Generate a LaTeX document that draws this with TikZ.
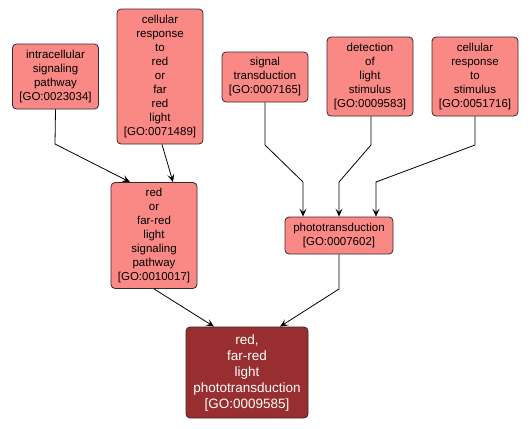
\documentclass[tikz,border=0pt]{standalone}
\usepackage{fontspec}
\setmainfont{Liberation Sans}
\usetikzlibrary{arrows.meta}
\definecolor{termfill}{RGB}{250,137,133}
\definecolor{rootfill}{RGB}{153,46,48}
\definecolor{termline}{RGB}{60,40,40}
\tikzset{
  term/.style={draw=termline, fill=termfill, rounded corners=4bp, line width=0.8bp,
    align=center, inner sep=0pt, font=\fontsize{11.5bp}{14bp}\selectfont},
  rootterm/.style={term, fill=rootfill, text=white, font=\fontsize{13.5bp}{16bp}\selectfont},
  edge/.style={line width=0.8bp, -{Stealth[length=8bp,width=7bp,inset=3.5bp]}}
}
\begin{document}
\begin{tikzpicture}[x=1bp, y=-1bp]
    \useasboundingbox (0,0) rectangle (531,428);

    % Top row
    \node[term, minimum width=86bp, minimum height=65bp] (intra) at (55.5,76.5)
        {intracellular\\signaling\\pathway\\{[GO:0023034]}};
    \node[term, minimum width=86bp, minimum height=135bp] (crred) at (160,76.5)
        {cellular\\response\\to\\red\\or\\far\\red\\light\\{[GO:0071489]}};
    \node[term, minimum width=86bp, minimum height=50bp] (sigtr) at (265,77)
        {signal\\transduction\\{[GO:0007165]}};
    \node[term, minimum width=86bp, minimum height=79bp] (detect) at (370,76.5)
        {detection\\of\\light\\stimulus\\{[GO:0009583]}};
    \node[term, minimum width=86bp, minimum height=79bp] (crstim) at (475,76.5)
        {cellular\\response\\to\\stimulus\\{[GO:0051716]}};

    % Middle row
    \node[term, minimum width=86bp, minimum height=106bp] (rfrsig) at (154,235.5)
        {red\\or\\far-red\\light\\signaling\\pathway\\{[GO:0010017]}};
    \node[term, minimum width=108bp, minimum height=37bp] (photo) at (339,235.5)
        {phototransduction\\{[GO:0007602]}};

    % Bottom
    \node[rootterm, minimum width=122bp, minimum height=91bp] (rfrphoto) at (247,372.5)
        {red,\\far-red\\light\\phototransduction\\{[GO:0009585]}};

    % Edges
    \draw[edge] (intra.south) -- (55,144) -- ([xshift=-24bp]rfrsig.north);
    \draw[edge] ([xshift=2bp]crred.south) -- ([xshift=19bp]rfrsig.north);
    \draw[edge] (sigtr.south) -- (265,145) -- (303,182) -- ([xshift=-36bp]photo.north);
    \draw[edge] ([xshift=1bp]detect.south) -- (371,145) -- (339,182) -- (photo.north);
    \draw[edge] (crstim.south) -- (475,145) -- (376,182) -- ([xshift=37bp]photo.north);
    \draw[edge] (photo.south) -- (339,289) -- ([xshift=33bp]rfrphoto.north);
    \draw[edge] (rfrsig.south) -- ([xshift=-33bp]rfrphoto.north);
\end{tikzpicture}
\end{document}
